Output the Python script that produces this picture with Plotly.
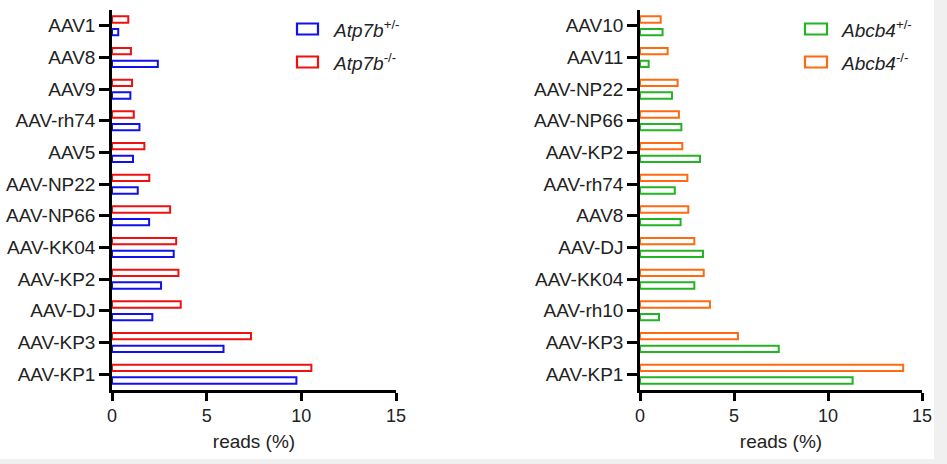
import plotly.graph_objects as go

# ---------------- data ----------------
left_cats = ["AAV1", "AAV8", "AAV9", "AAV-rh74", "AAV5", "AAV-NP22", "AAV-NP66",
             "AAV-KK04", "AAV-KP2", "AAV-DJ", "AAV-KP3", "AAV-KP1"]
atp7b_het = [0.33, 2.42, 0.97, 1.45, 1.11, 1.36, 1.96, 3.26, 2.59, 2.13, 5.89, 9.74]
atp7b_ko = [0.86, 1.00, 1.06, 1.15, 1.71, 1.97, 3.07, 3.39, 3.51, 3.63, 7.34, 10.53]

right_cats = ["AAV10", "AAV11", "AAV-NP22", "AAV-NP66", "AAV-KP2", "AAV-rh74", "AAV8",
              "AAV-DJ", "AAV-KK04", "AAV-rh10", "AAV-KP3", "AAV-KP1"]
abcb4_het = [1.20, 0.46, 1.70, 2.20, 3.19, 1.85, 2.16, 3.35, 2.89, 1.01, 7.38, 11.31]
abcb4_ko = [1.10, 1.47, 2.00, 2.07, 2.25, 2.52, 2.57, 2.89, 3.39, 3.72, 5.21, 14.00]

x_ticks = [0, 5, 10, 15]
x_title = "reads (%)"

# ---------------- layout helpers ----------------
W, H = 947, 464
ML, MR, MT, MB = 112, 25, 10, 74
PW = W - ML - MR
PH = H - MT - MB


def px(x):
    return (x - ML) / PW


def py(y):
    return (H - MB - y) / PH


FONT = "Arial, Liberation Sans, sans-serif"
TXT = "#222222"
BLUE, RED = "#1010f0", "#f01010"
GREEN, ORANGE = "#22b422", "#ff6a10"

fig = go.Figure()


def add_bar(x, cats, color, xa, ya, name):
    fig.add_trace(go.Bar(
        x=x, y=cats, orientation="h", name=name,
        marker=dict(color="white", line=dict(color=color, width=2)),
        xaxis=xa, yaxis=ya, showlegend=False,
    ))


add_bar(atp7b_ko, left_cats, RED, "x", "y", "Atp7b-/-")
add_bar(atp7b_het, left_cats, BLUE, "x", "y", "Atp7b+/-")
add_bar(abcb4_ko, right_cats, ORANGE, "x2", "y2", "Abcb4-/-")
add_bar(abcb4_het, right_cats, GREEN, "x2", "y2", "Abcb4+/-")

xaxis_common = dict(
    range=[0, 15], tickvals=x_ticks, ticks="outside", ticklen=8, tickwidth=2.5,
    tickcolor="black", showline=True, linewidth=2.5, linecolor="black",
    showgrid=False, zeroline=False, automargin=False,
    tickfont=dict(family=FONT, size=18, color=TXT),
    title=dict(text=x_title, font=dict(family=FONT, size=19, color=TXT), standoff=10),
)
yaxis_common = dict(
    autorange="reversed", type="category", ticks="outside", ticklen=10, tickwidth=2.5,
    tickcolor="black", showline=True, linewidth=2.5, linecolor="black",
    showgrid=False, zeroline=False, automargin=False,
    tickfont=dict(family=FONT, size=19, color=TXT), domain=[0, 1],
)

fig.update_layout(
    width=W, height=H,
    margin=dict(l=ML, r=MR, t=MT, b=MB, autoexpand=False),
    paper_bgcolor="#f0f0f0", plot_bgcolor="white",
    barmode="group", bargap=0.2, bargroupgap=0.5,
    xaxis=dict(domain=[0, px(396)], anchor="y", **xaxis_common),
    yaxis=dict(anchor="x", **yaxis_common),
    xaxis2=dict(domain=[px(640), 1], anchor="y2", **xaxis_common),
    yaxis2=dict(anchor="x2", **yaxis_common),
)

# white page area (gray band on right and bottom as in reference)
shapes = [dict(type="rect", xref="paper", yref="paper", layer="below",
               x0=px(-5), x1=px(934), y0=py(459), y1=py(-5),
               fillcolor="white", line=dict(width=0))]

# custom legends (wide hollow rectangles)
legend_items = [
    (297, 318, 331, 29, BLUE, "<i>Atp7b</i><sup>+/-</sup>"),
    (297, 318, 331, 62, RED, "<i>Atp7b</i><sup>-/-</sup>"),
    (805, 827, 839, 29, GREEN, "<i>Abcb4</i><sup>+/-</sup>"),
    (805, 827, 839, 62, ORANGE, "<i>Abcb4</i><sup>-/-</sup>"),
]
annotations = []
for x0, x1, tx, yc, col, label in legend_items:
    shapes.append(dict(type="rect", xref="paper", yref="paper",
                       x0=px(x0), x1=px(x1), y0=py(yc + 5.5), y1=py(yc - 5.5),
                       fillcolor="white", line=dict(color=col, width=2.2)))
    annotations.append(dict(xref="paper", yref="paper", x=px(tx), y=py(yc),
                            xanchor="left", yanchor="middle", showarrow=False,
                            text=label, font=dict(family=FONT, size=19, color=TXT)))

fig.update_layout(shapes=shapes, annotations=annotations)

fig.write_html("out.html")
